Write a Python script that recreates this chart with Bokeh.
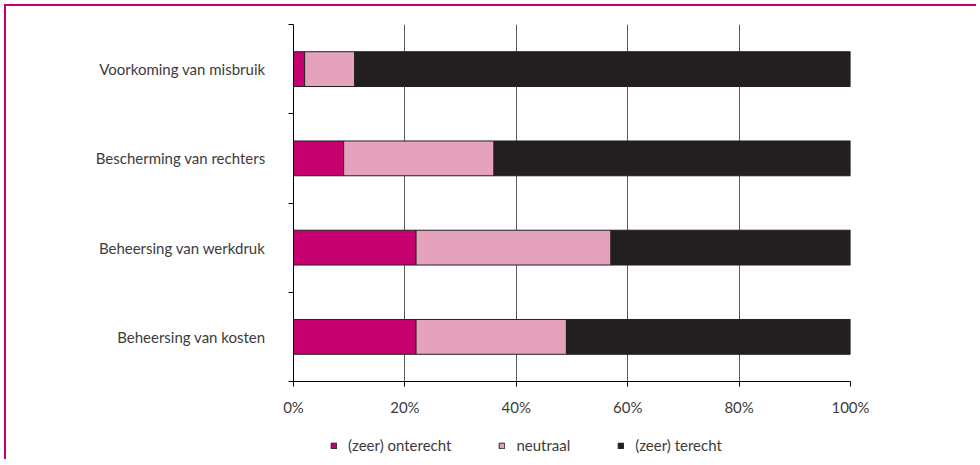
from bokeh.plotting import figure
from bokeh.layouts import column
from bokeh.models import (ColumnDataSource, Range1d, FixedTicker, PrintfTickFormatter,
                          Legend, LegendItem)
from bokeh.embed import file_html
from bokeh.resources import INLINE

# ---- data ----
categories = ["Voorkoming van misbruik", "Bescherming van rechters",
              "Beheersing van werkdruk", "Beheersing van kosten"]
onterecht = [2, 9, 22, 22]
neutraal = [9, 27, 35, 27]
terecht = [89, 64, 43, 51]
series_labels = ["(zeer) onterecht", "neutraal", "(zeer) terecht"]
x_ticks = [0, 20, 40, 60, 80, 100]

colors = ["#c6006f", "#e5a2bc", "#231f20"]
EDGE = "#231f20"
FONT = "Lato"
TXT = "#3c3c3c"
FS = "15px"

n = len(categories)
ypos = [2 * (n - 1 - i) + 1 for i in range(n)]
source = ColumnDataSource(dict(y=ypos, onterecht=onterecht, neutraal=neutraal,
                               terecht=terecht))
stack_keys = ["onterecht", "neutraal", "terecht"]

W = 970
p = figure(width=W, height=425, output_backend="svg", toolbar_location=None,
           x_range=Range1d(0, 100), y_range=Range1d(0, 2 * n),
           min_border_left=287, min_border_right=126, min_border_top=18,
           min_border_bottom=50)
p.outline_line_color = None
p.background_fill_color = "white"
p.border_fill_color = "white"

p.hbar_stack(stack_keys, y="y", height=0.78,
             color=colors, line_color=EDGE, line_width=1, source=source)

# x axis
xa = p.xaxis[0]
xa.ticker = FixedTicker(ticks=x_ticks)
xa.formatter = PrintfTickFormatter(format="%d%%")
xa.axis_line_color = "#000000"
xa.major_tick_line_color = "#000000"
xa.major_tick_out = 5
xa.major_tick_in = 0
xa.minor_tick_line_color = None
xa.major_label_standoff = 11
xa.major_label_text_font = FONT
xa.major_label_text_font_size = FS
xa.major_label_text_color = TXT

# y axis
ya = p.yaxis[0]
ya.ticker = FixedTicker(ticks=ypos, minor_ticks=list(range(0, 2 * n + 1, 2)))
ya.major_label_overrides = {y: c for y, c in zip(ypos, categories)}
ya.axis_line_color = "#000000"
ya.major_tick_line_color = None
ya.major_tick_out = 0
ya.major_tick_in = 0
ya.minor_tick_line_color = "#000000"
ya.minor_tick_out = 5
ya.minor_tick_in = 0
ya.major_label_standoff = 23
ya.major_label_text_font = FONT
ya.major_label_text_font_size = FS
ya.major_label_text_color = TXT

p.ygrid.grid_line_color = None
p.xgrid.grid_line_color = "#5a5a5a"
p.xgrid.grid_line_width = 1

# legend strip below the chart (frame aligned with the main chart's frame)
lf = figure(width=W, height=28, output_backend="svg", toolbar_location=None,
            x_range=Range1d(0, 100), y_range=Range1d(0, 2 * n),
            min_border=0, min_border_left=0, min_border_right=0,
            min_border_top=0, min_border_bottom=0)
lf.axis.visible = False
lf.grid.visible = False
lf.outline_line_color = None
lf.background_fill_color = "white"
lf.border_fill_color = "white"
leg_rs = lf.hbar_stack(stack_keys, y="y", height=0.78, color=colors,
                       line_color=EDGE, line_width=1, source=source)
for r in leg_rs:
    r.visible = False
items = [LegendItem(label=lab, renderers=[r]) for r, lab in zip(leg_rs, series_labels)]
legend = Legend(items=items, location=(37, 5), orientation="horizontal",
                padding=0, margin=0, spacing=47, border_line_color=None,
                background_fill_alpha=0, glyph_width=7, glyph_height=7,
                label_standoff=11, label_text_font=FONT, label_text_font_size=FS,
                label_text_color=TXT, inactive_fill_alpha=0)
lf.add_layout(legend, "center")

page = column(p, lf, spacing=0,
              styles={"border-top": "2px solid #c8006e",
                      "border-left": "2px solid #c8006e",
                      "margin-left": "4px", "margin-top": "4px"})

open("out.html", "w").write(file_html(page, INLINE))
